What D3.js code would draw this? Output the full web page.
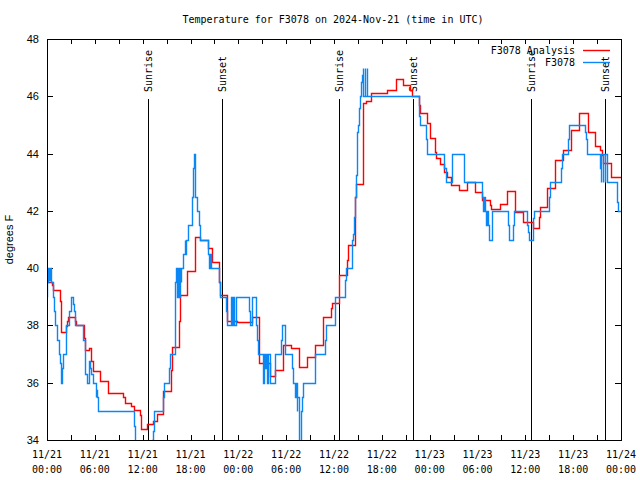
<!DOCTYPE html>
<html>
<head>
<meta charset="utf-8">
<script src="https://cdn.jsdelivr.net/npm/d3@7"></script>
<style>
  body { margin: 0; background: #fff; }
  svg text { font-family: "DejaVu Sans Mono", monospace; font-size: 10px; fill: #000; }
  svg .ylab { font-family: "Liberation Sans", "DejaVu Sans", sans-serif; font-size: 11px; }
</style>
</head>
<body>
<div id="chart"></div>
<script>
// hours after 2024-11-21 00:00 UTC, step values in degrees F
const analysisHours = [0, 0.63, 0.8, 1.59, 1.8, 2.38, 2.55, 2.63, 3.51, 3.64, 4.64, 4.73, 5.3, 5.52, 5.73,
  6.65, 7.6, 9.58, 9.79, 10.58, 10.92, 11.63, 11.83, 12.6, 13.34, 13.76, 14.51, 15.52, 15.68, 16.6,
  16.69, 17.6, 18.61, 19.2, 20.2, 20.7, 21.58, 21.71, 22.54, 22.63, 23.88, 25.68, 26.64, 27.98, 28.6,
  29.57, 30.58, 31.66, 32.67, 33.67, 34.67, 35.68, 35.76, 36.6, 36.68, 37.68, 37.77, 38.69, 38.77,
  39.69, 40.0, 40.69, 42.7, 43.79, 44.71, 45.55, 45.8, 46.68, 46.76, 47.68, 48.1, 48.68, 48.76, 49.35,
  49.77, 50.2, 50.69, 51.7, 52.7, 53.7, 54.62, 55.62, 55.7, 56.8, 57.72, 58.72, 59.72, 59.77, 60.94,
  61.77, 61.85, 62.69, 63.7, 64.78, 65.7, 66.7, 66.79, 67.8, 67.88, 68.8, 69.4, 69.6, 69.8, 70.8, 72];
const analysisTemps = [39.5, 39.4, 39.24, 38.86, 37.77, 37.98, 38.14, 38.28, 38.14, 38.0, 37.55, 37.14, 37.2, 36.77, 36.4,
  36.07, 35.63, 35.5, 35.28, 35.17, 35.05, 34.88, 34.37, 34.55, 34.65, 34.9, 35.72, 36.44, 37.24, 38.17,
  39.07, 39.91, 41.1, 40.98, 40.69, 40.21, 39.53, 39.07, 38.76, 38.17, 38.13, 38.3, 36.7, 36.23, 36.44,
  37.3, 37.2, 36.56, 36.91, 37.3, 38.28, 38.6, 38.8, 39.24, 39.75, 40.28, 40.8, 42.5, 42.94,
  45.76, 45.83, 46.1, 46.22, 46.6, 46.4, 46.22, 46.0, 45.7, 45.4, 45.08, 44.53, 44.07, 43.83, 43.62,
  43.35, 43.19, 42.9, 42.72, 43.02, 42.67, 42.38, 42.21, 42.05, 42.24, 42.69, 41.97, 41.8, 41.62, 41.39,
  41.8, 42.15, 42.79, 43.76, 44.13, 44.83, 45.06, 45.43, 45.06, 44.76, 44.27, 44.13, 43.95, 43.66, 43.18, 43.18];

const obsHours = [0, 0.04, 0.13, 0.3, 0.36, 0.5, 0.6, 0.79, 0.88, 0.96, 1.3, 1.46, 1.59, 1.71, 1.8, 1.88, 1.97,
  2.34, 2.43, 2.76, 2.97, 3.22, 3.39, 3.47, 4.56, 4.73, 4.81, 4.98, 5.23, 5.31, 5.4, 5.56, 5.73, 6.1, 6.16,
  6.31, 6.4, 10.92, 11.0, 11.08, 13.21, 13.34, 13.42, 14.6, 14.68, 15.35, 15.43, 16.02, 16.1, 16.16,
  16.36, 16.42, 16.62, 16.68, 16.8, 16.86, 17.11, 17.27, 17.36, 17.42, 17.69, 18.19, 18.27,
  18.36, 18.44, 18.53, 18.61, 18.78, 19.03, 19.2, 20.2, 20.28, 20.45, 20.51, 21.62, 21.71, 22.46, 22.63,
  23.13, 23.19, 23.38, 23.44, 23.71, 25.39, 25.47, 25.72, 26.22, 26.31, 26.47, 27.14, 27.2, 27.39, 27.45,
  27.65, 27.71, 27.98, 28.57, 29.32, 29.49, 29.82, 29.9, 30.74, 30.82, 31.16, 31.22, 31.33, 31.41, 31.58,
  31.66, 31.83, 31.91, 32.0, 32.16, 33.58, 34.84, 35.0, 36.09, 36.17, 37.35, 37.43, 37.52, 38.27, 38.35,
  38.52, 38.6, 38.77, 38.86, 38.94, 39.02, 39.1, 39.19, 39.27, 39.44, 39.52, 39.6, 39.65, 39.85, 39.9,
  40.08, 40.13, 46.71, 46.8, 47.55, 47.72, 49.81, 50.1, 50.77, 52.28, 52.36, 54.62, 54.7,
  54.76, 54.95, 55.12, 55.18, 55.37, 55.46, 55.79, 57.84, 57.93, 58.51, 58.6, 60.26, 60.34, 60.43, 60.94,
  61.02, 61.1, 62.94, 63.1, 64.45, 64.62, 65.37, 65.46, 67.54, 67.62, 67.7, 69.39, 69.47, 69.53,
  69.72, 69.78, 69.97, 70.03, 70.22, 70.3, 70.39, 71.48, 71.56, 71.65, 71.95];
const obsTemps = [39.0, 39.5, 40.0, 39.6, 40.0, 39.5, 39.5, 39.0, 38.5, 38.0, 37.5, 37.0, 36.7, 36.3, 36.0, 36.5, 37.0,
  37.5, 38.0, 38.5, 39.0, 38.75, 38.5, 38.0, 37.5, 37.0, 36.3, 36.0, 36.3, 36.75, 36.5, 36.3, 36.0, 35.5, 35.75,
  35.5, 35.0, 34.5, 34.2, 33.5, 34.0, 34.3, 35.0, 35.5, 36.0, 36.5, 37.0, 38.0, 39.5, 40.0,
  39.0, 40.0, 39.0, 40.0, 39.5, 40.0, 40.5, 41.0, 40.5, 41.0, 41.5, 42.5, 43.0,
  43.5, 44.0, 43.0, 42.5, 42.0, 41.5, 41.0, 40.5, 40.0, 40.5, 40.0, 39.5, 39.0, 38.5, 38.0,
  39.0, 38.0, 39.0, 38.0, 39.0, 38.5, 38.0, 39.0, 38.0, 37.5, 37.0, 36.0, 37.0, 36.5, 37.0,
  36.0, 37.0, 36.0, 37.0, 37.5, 38.0, 37.5, 37.0, 36.5, 36.0, 35.5, 36.0, 35.0, 35.5, 34.5,
  33.8, 34.5, 35.0, 35.5, 36.0, 37.0, 37.5, 38.0, 38.5, 39.0, 39.3, 39.6, 40.0, 41.0, 41.2,
  41.8, 42.5, 43.25, 44.25, 44.75, 45.0, 45.35, 45.6, 46.0, 46.5, 46.75, 47.0, 46.0, 47.0, 46.0,
  47.0, 46.0, 45.3, 45.0, 44.5, 44.0, 43.5, 43.0, 44.0, 43.5, 43.0, 42.5, 42.0,
  42.5, 42.0, 41.5, 42.0, 41.5, 41.0, 42.0, 41.5, 41.0, 41.5, 42.0, 41.5, 41.25, 41.0, 41.5,
  41.75, 42.0, 42.5, 43.0, 43.5, 44.0, 44.5, 45.0, 44.75, 44.5, 44.0, 43.5, 43.0, 44.0,
  43.0, 44.0, 43.0, 44.0, 43.5, 43.0, 43.0, 42.5, 42.3, 42.0, 42.0];

const sunEvents = ["Sunrise", "Sunset", "Sunrise", "Sunset", "Sunrise", "Sunset"];
const sunHours = [12.67, 21.96, 36.63, 45.92, 60.73, 70.01];

const seriesNames = ["F3078 Analysis", "F3078"];
const seriesColors = ["#ff0000", "#0a86f5"];
const yTicks = [34, 36, 38, 40, 42, 44, 46, 48];

const width = 640, height = 480;
const margin = { top: 39, right: 19, bottom: 40, left: 47 };
const t0 = Date.UTC(2024, 10, 21);
const toDate = (h) => new Date(t0 + h * 3600e3);

const svg = d3.select("#chart").append("svg")
  .attr("width", width).attr("height", height);

const x = d3.scaleUtc()
  .domain([toDate(0), toDate(72)])
  .range([margin.left, width - margin.right]);
const y = d3.scaleLinear()
  .domain([34, 48])
  .range([height - margin.bottom, margin.top]);

svg.append("defs").append("clipPath").attr("id", "plot")
  .append("rect")
  .attr("x", margin.left).attr("y", margin.top)
  .attr("width", width - margin.left - margin.right)
  .attr("height", height - margin.top - margin.bottom);

// title
svg.append("text")
  .attr("x", 333).attr("y", 23)
  .attr("text-anchor", "middle")
  .text("Temperature for F3078 on 2024-Nov-21 (time in UTC)");

// x ticks: every 3 h, labelled every 6 h
const xTickDates = d3.range(0, 73, 3).map(toDate);
const xLabelDates = d3.range(0, 73, 6).map(toDate);
const fmtDay = d3.utcFormat("%m/%d"), fmtTime = d3.utcFormat("%H:%M");

svg.append("g").selectAll("line").data(xTickDates).enter().append("line")
  .attr("x1", (d) => Math.round(x(d)) + 0.5).attr("x2", (d) => Math.round(x(d)) + 0.5)
  .attr("y1", height - margin.bottom).attr("y2", height - margin.bottom - 5)
  .attr("stroke", "#000");
svg.append("g").selectAll("line").data(xTickDates).enter().append("line")
  .attr("x1", (d) => Math.round(x(d)) + 0.5).attr("x2", (d) => Math.round(x(d)) + 0.5)
  .attr("y1", margin.top).attr("y2", margin.top + 5)
  .attr("stroke", "#000");

const xl = svg.append("g").selectAll("text").data(xLabelDates).enter().append("text")
  .attr("text-anchor", "middle");
xl.append("tspan").attr("x", (d) => x(d)).attr("y", 458).text(fmtDay);
xl.append("tspan").attr("x", (d) => x(d)).attr("y", 473).text(fmtTime);

// y ticks
svg.append("g").selectAll("line").data(yTicks).enter().append("line")
  .attr("x1", margin.left).attr("x2", margin.left + 6)
  .attr("y1", (d) => Math.round(y(d)) + 0.5).attr("y2", (d) => Math.round(y(d)) + 0.5)
  .attr("stroke", "#000");
svg.append("g").selectAll("line").data(yTicks).enter().append("line")
  .attr("x1", width - margin.right).attr("x2", width - margin.right - 6)
  .attr("y1", (d) => Math.round(y(d)) + 0.5).attr("y2", (d) => Math.round(y(d)) + 0.5)
  .attr("stroke", "#000");
svg.append("g").selectAll("text").data(yTicks).enter().append("text")
  .attr("class", "ylab")
  .attr("x", 39).attr("y", (d) => y(d) + 4)
  .attr("text-anchor", "end")
  .text((d) => d);

svg.append("text")
  .attr("class", "ylab")
  .attr("transform", `translate(13,${(margin.top + height - margin.bottom) / 2}) rotate(-90)`)
  .attr("text-anchor", "middle")
  .text("degrees F");

// sunrise / sunset markers
const sun = svg.append("g").selectAll("g").data(sunHours).enter().append("g");
sun.append("line")
  .attr("x1", (d) => Math.round(x(toDate(d))) + 0.5).attr("x2", (d) => Math.round(x(toDate(d))) + 0.5)
  .attr("y1", 99).attr("y2", height - margin.bottom)
  .attr("stroke", "#000");
sun.append("text")
  .attr("transform", (d) => `translate(${x(toDate(d)) + 4},92) rotate(-90)`)
  .attr("text-anchor", "start")
  .text((d, i) => sunEvents[i]);

// step lines
const line = d3.line()
  .x((d) => Math.round(x(toDate(d[0]))) + 0.5)
  .y((d) => Math.round(y(d[1])) + 0.5)
  .curve(d3.curveStepAfter);

const analysis = analysisHours.map((h, i) => [h, analysisTemps[i]]);
const obs = obsHours.map((h, i) => [h, obsTemps[i]]);

const plot = svg.append("g").attr("clip-path", "url(#plot)");
plot.append("path").datum(analysis)
  .attr("d", line).attr("fill", "none")
  .attr("stroke", seriesColors[0]).attr("stroke-width", 1.4);
plot.append("path").datum(obs)
  .attr("d", line).attr("fill", "none")
  .attr("stroke", seriesColors[1]).attr("stroke-width", 1.4);

// legend
const legend = svg.append("g").selectAll("g").data(seriesNames).enter().append("g")
  .attr("transform", (d, i) => `translate(0,${50 + i * 12})`);
legend.append("text")
  .attr("x", 575).attr("y", 3.5)
  .attr("text-anchor", "end")
  .text((d) => d);
legend.append("line")
  .attr("x1", 583).attr("x2", 610)
  .attr("y1", 0.5).attr("y2", 0.5)
  .attr("stroke", (d, i) => seriesColors[i]).attr("stroke-width", 1.4);

// frame
svg.append("rect")
  .attr("x", margin.left + 0.5).attr("y", margin.top + 0.5)
  .attr("width", width - margin.left - margin.right)
  .attr("height", height - margin.top - margin.bottom)
  .attr("fill", "none").attr("stroke", "#000");
</script>
</body>
</html>
